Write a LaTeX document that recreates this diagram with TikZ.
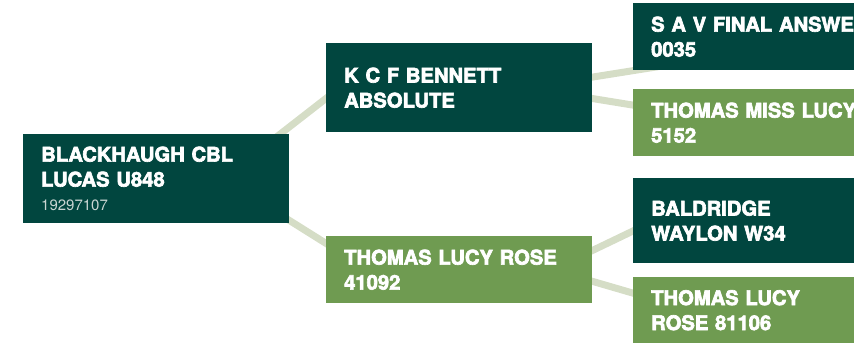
\documentclass[tikz,border=0pt]{standalone}
\usepackage{fontspec}
\setmainfont{TeX Gyre Heros}
\newfontfamily\heavy{TeX Gyre Heros}[UprightFont={* Bold}, FakeBold=3.2]
\usetikzlibrary{calc,backgrounds}
\definecolor{darkteal}{HTML}{01463F}
\definecolor{leaf}{HTML}{6F9B51}
\definecolor{linkc}{HTML}{D5DDC6}
\definecolor{numc}{HTML}{C9D5D2}
\tikzset{
  box/.style={anchor=north west, minimum width=266pt, text width=230pt,
    inner xsep=18pt, inner ysep=0pt, align=left, text=white,
    font=\heavy\fontsize{20.2}{25}\selectfont},
  darkbox/.style={box, fill=darkteal},
  greenbox/.style={box, fill=leaf},
  link/.style={draw=linkc, line width=7pt}
}
\begin{document}
\begin{tikzpicture}[x=1pt,y=1pt]
\useasboundingbox (0,0) rectangle (854,-351);
\clip (0,0) rectangle (854,-351);
\node[darkbox, minimum height=89pt] (root) at (23,-134)
  {BLACKHAUGH CBL\\LUCAS U848\\[-1pt]{\normalfont\fontsize{15}{20}\selectfont\color{numc}19297107}};
\node[darkbox, minimum height=89pt] (kcf) at (326,-43) {K C F BENNETT\\ABSOLUTE};
\node[greenbox, minimum height=67pt] (tlr) at (326,-236) {THOMAS LUCY ROSE\\41092};
\node[darkbox, minimum height=67pt] (sav) at (633,-3) {S A V FINAL ANSWER\\0035};
\node[greenbox, minimum height=67pt] (tml) at (633,-89) {THOMAS MISS LUCY\\5152};
\node[darkbox, minimum height=85pt] (bal) at (633,-178) {BALDRIDGE\\WAYLON W34};
\node[greenbox, minimum height=66pt] (tlr2) at (633,-277) {THOMAS LUCY\\ROSE 81106};
\begin{scope}[on background layer]
\draw[link] ($(root.center)!0.5!(root.east)$) -- ($(kcf.north west)+(34,-29)$);
\draw[link] ($(root.center)!0.5!(root.east)$) -- ($(tlr.north west)+(34,-28.7)$);
\draw[link] ($(kcf.center)!0.5!(kcf.east)$) -- ($(sav.north west)+(67,-57)$);
\draw[link] ($(kcf.center)!0.5!(kcf.east)$) -- ($(tml.north west)+(67,-27)$);
\draw[link] ($(tlr.center)!0.7!(tlr.east)$) -- ($(bal.north west)+(27,-40)$);
\draw[link] ($(tlr.center)!0.7!(tlr.east)$) -- ($(tlr2.north west)+(27,-24)$);
\end{scope}
\end{tikzpicture}
\end{document}
